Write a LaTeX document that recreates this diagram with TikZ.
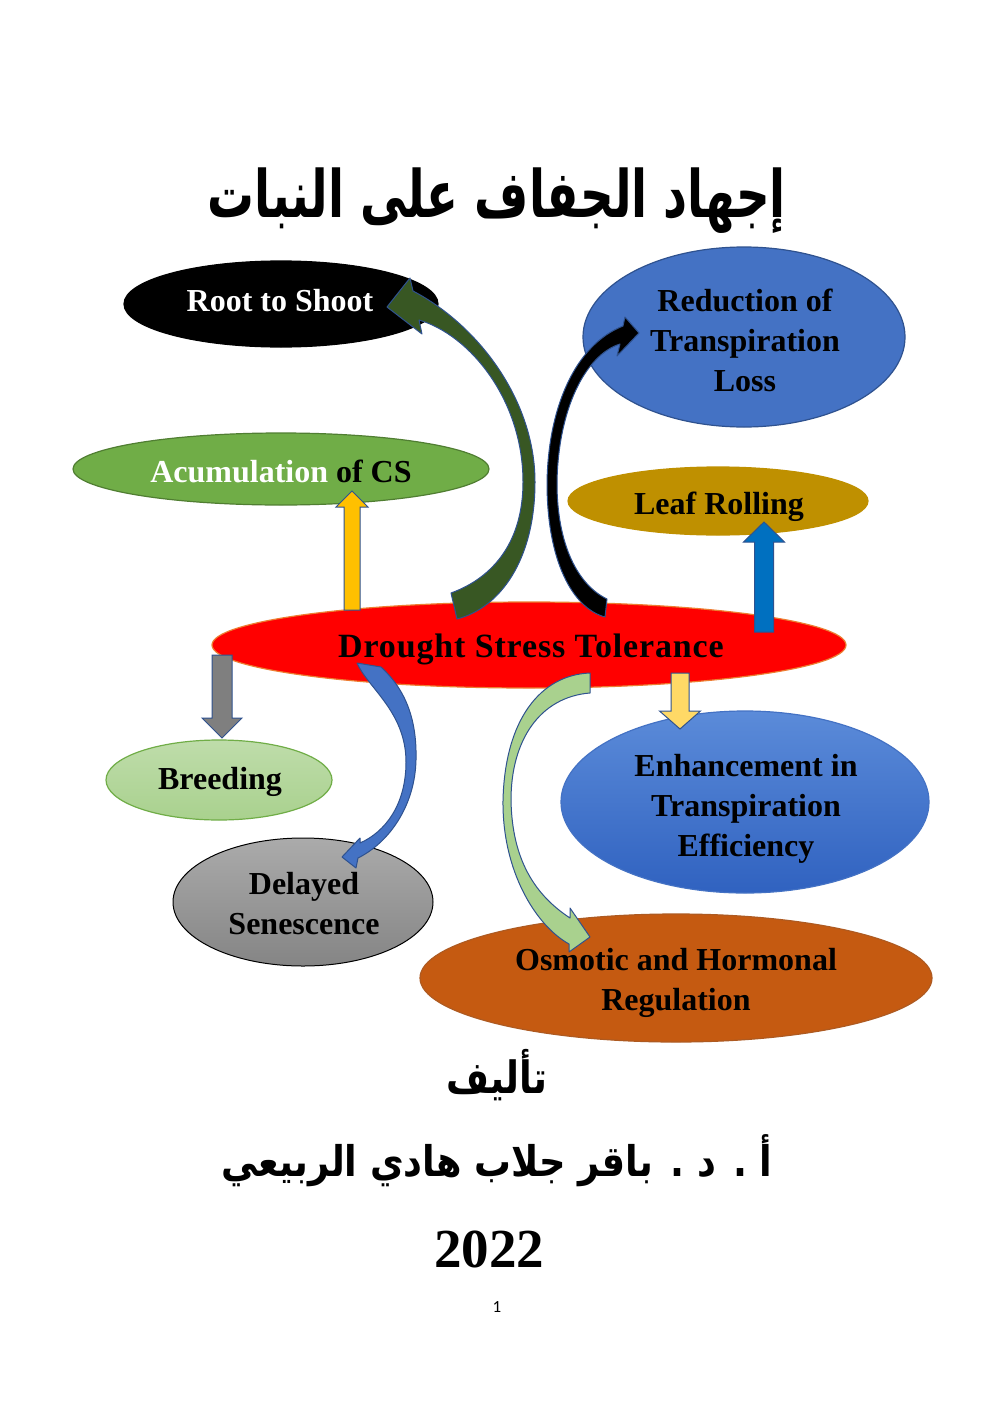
\documentclass[tikz,border=0pt]{standalone}
\usepackage{fontspec}
\setmainfont{Liberation Serif}
\newfontfamily\arabicfont[Script=Arabic]{DejaVu Sans}
\newfontfamily\pagefont{Carlito}
\TeXXeTstate=1
\usetikzlibrary{shapes.geometric,calc}
\definecolor{redborder}{HTML}{ED7D31}
\definecolor{accblue}{HTML}{4472C4}
\definecolor{darkblue}{HTML}{2F528F}
\definecolor{accgreen}{HTML}{70AD47}
\definecolor{greenborder}{HTML}{507E32}
\definecolor{goldfill}{HTML}{BF9000}
\definecolor{lightgreen}{HTML}{A9D18E}
\definecolor{orangefill}{HTML}{C55A11}
\definecolor{orangeborder}{HTML}{AE5A21}
\definecolor{yellowarrow}{HTML}{FFC000}
\definecolor{lightyellow}{HTML}{FFD966}
\definecolor{bluearrow}{HTML}{0070C0}
\definecolor{grayarrow}{HTML}{7F7F7F}
\definecolor{darkgreen}{HTML}{385723}
\definecolor{enhtop}{HTML}{5B8BD9}
\definecolor{enhbottom}{HTML}{3062C0}
\tikzset{
  bubble/.style={ellipse, inner sep=0pt, line width=1.2pt},
  lbl/.style={inner sep=0pt, align=center, font={\bfseries\fontsize{32}{40}\selectfont}},
  blockborder/.style={draw=darkblue, line width=1pt, line join=miter},
  curvedborder/.style={draw=darkblue, line width=1pt, line join=round},
}
% straight block arrows: #1 tail, #2 tip, #3 shaft half width, #4 head half width, #5 head length, #6 fill
\newcommand{\uparr}[6]{\filldraw[fill=#6, blockborder] let \p1=(#1), \p2=(#2) in
  (\x2-#3,\y1) -- (\x2-#3,\y2-#5) -- (\x2-#4,\y2-#5) -- (\x2,\y2) -- (\x2+#4,\y2-#5) -- (\x2+#3,\y2-#5) -- (\x2+#3,\y1) -- cycle;}
\newcommand{\downarr}[6]{\filldraw[fill=#6, blockborder] let \p1=(#1), \p2=(#2) in
  (\x2-#3,\y1) -- (\x2-#3,\y2+#5) -- (\x2-#4,\y2+#5) -- (\x2,\y2) -- (\x2+#4,\y2+#5) -- (\x2+#3,\y2+#5) -- (\x2+#3,\y1) -- cycle;}
\begin{document}
\begin{tikzpicture}[x=1pt,y=1pt]
\useasboundingbox[fill=white] (0,0) rectangle (993,-1418);

% titles
\node (title) at (497,-201) {\resizebox{578pt}{!}{\scalebox{1}[1.4]{\arabicfont\bfseries\beginR إجهاد الجفاف على النبات\endR}}};
\node (authorlabel) at (497,-1075) {\resizebox{101pt}{!}{\scalebox{1}[1.2]{\arabicfont\bfseries\beginR تأليف\endR}}};
\node (author) at (497,-1161) {\resizebox{551pt}{!}{\scalebox{1}[1.15]{\arabicfont\bfseries\beginR أ . د . باقر جلاب هادي الربيعي\endR}}};
\node (year) at (489,-1249) {\fontsize{55}{60}\selectfont\bfseries 2022};
\node (page) at (497,-1307) {\pagefont\fontsize{17}{20}\selectfont 1};

% ellipses
\node[bubble, fill=black, draw=black, minimum width=314pt, minimum height=86pt] (root) at (281,-304) {};
\node[bubble, fill=accblue, draw=darkblue, minimum width=322pt, minimum height=180pt] (reduction) at (744,-337) {};
\node[bubble, fill=accgreen, draw=greenborder, minimum width=416pt, minimum height=72pt] (accum) at (281,-469) {};
\node[bubble, fill=goldfill, draw=goldfill, minimum width=300pt, minimum height=68pt] (leaf) at (718,-501) {};
\node[bubble, fill=red, draw=redborder, minimum width=634pt, minimum height=86pt] (drought) at (529,-645) {};
\node[bubble, top color=lightgreen!75!white, bottom color=lightgreen, draw=accgreen, minimum width=226pt, minimum height=80pt] (breeding) at (219,-780) {};
\node[bubble, top color=enhtop, bottom color=enhbottom, draw=accblue, minimum width=368pt, minimum height=182pt] (enhance) at (745,-802) {};
\node[bubble, top color=black!33, bottom color=black!48, draw=black, line width=1pt, minimum width=260pt, minimum height=128pt] (delayed) at (303,-902) {};
\node[bubble, fill=orangefill, draw=orangeborder, minimum width=512pt, minimum height=128pt] (osmotic) at (676,-978) {};

% labels
\node[lbl, text=white] (root-t) at (280,-301) {Root to Shoot};
\node[lbl] (reduction-t) at (745,-340) {Reduction of\\Transpiration\\Loss};
\node[lbl] (accum-t) at (281,-471) {\textcolor{white}{Acumulation} of CS};
\node[lbl] (leaf-t) at (719,-507) {Leaf Rolling};
\node[lbl, font={\bfseries\fontsize{34}{40}\selectfont\addfontfeatures{LetterSpace=2.5}}] (drought-t) at (531,-649) {Drought Stress Tolerance};
\node[lbl] (breeding-t) at (220,-782) {Breeding};
\node[lbl] (enhance-t) at (746,-809) {Enhancement in\\Transpiration\\Efficiency};
\node[lbl] (delayed-t) at (304,-904) {Delayed\\Senescence};
\node[lbl] (osmotic-t) at (676,-983) {Osmotic and Hormonal\\Regulation};

% straight block arrows
\coordinate (ya1) at (352,-610); \coordinate (ya2) at (352,-491);
\uparr{ya1}{ya2}{8pt}{16pt}{16pt}{yellowarrow}
\coordinate (ba1) at (764,-632); \coordinate (ba2) at (764,-522);
\uparr{ba1}{ba2}{9.5pt}{20.5pt}{20pt}{bluearrow}
\coordinate (ga1) at (222,-655); \coordinate (ga2) at (222,-738);
\downarr{ga1}{ga2}{10pt}{20pt}{20pt}{grayarrow}
\coordinate (la1) at (680,-673); \coordinate (la2) at (680,-729);
\downarr{la1}{la2}{9pt}{20.5pt}{18pt}{lightyellow}

% curved arrow: drought -> root (dark green)
\coordinate (g-t1) at (451,-593); \coordinate (g-t2) at (457,-619);
\coordinate (g-h1) at (413,-291); \coordinate (g-b1) at (410,-278);
\coordinate (g-tip) at (387,-307);
\coordinate (g-b2) at (422,-334); \coordinate (g-h2) at (419,-320);
\filldraw[fill=darkgreen, curvedborder] (g-t1) -- (g-t2)
  .. controls (500,-608) and (535,-560) .. (535,-482)
  .. controls (535,-400) and (478,-325) .. (g-h1)
  -- (g-b1) -- (g-tip) -- (g-b2) -- (g-h2)
  .. controls (470,-335) and (523,-400) .. (523,-482)
  .. controls (523,-540) and (495,-577) .. (g-t1) -- cycle;

% curved arrow: drought -> reduction (black)
\coordinate (k-t1) at (607,-599); \coordinate (k-t2) at (605,-617);
\coordinate (k-h1) at (623,-326); \coordinate (k-b1) at (625,-317);
\coordinate (k-tip) at (639,-333);
\coordinate (k-b2) at (617,-356); \coordinate (k-h2) at (620,-344);
\filldraw[fill=black, curvedborder] (k-t1) -- (k-t2)
  .. controls (572,-608) and (547,-560) .. (547,-483)
  .. controls (548,-408) and (575,-345) .. (k-h1)
  -- (k-b1) -- (k-tip) -- (k-b2) -- (k-h2)
  .. controls (585,-355) and (558,-410) .. (557,-483)
  .. controls (557,-545) and (578,-585) .. (k-t1) -- cycle;

% curved arrow: drought -> delayed (blue)
\coordinate (b-t1) at (357,-663); \coordinate (b-t2) at (381,-667);
\coordinate (b-h2) at (358,-858); \coordinate (b-b2) at (356,-868);
\coordinate (b-tip) at (342,-857);
\coordinate (b-b1) at (360,-838); \coordinate (b-h1) at (360,-843);
\filldraw[fill=accblue, curvedborder] (b-t1) -- (b-t2)
  .. controls (406,-690) and (417,-720) .. (416,-760)
  .. controls (415,-805) and (390,-842) .. (b-h2)
  -- (b-b2) -- (b-tip) -- (b-b1) -- (b-h1)
  .. controls (385,-832) and (406,-805) .. (406,-762)
  .. controls (406,-712) and (368,-688) .. (b-t1) -- cycle;

% curved arrow: drought -> osmotic (light green)
\coordinate (l-t1) at (590,-673); \coordinate (l-t2) at (590,-693);
\coordinate (l-h1) at (570,-918); \coordinate (l-b1) at (570,-908);
\coordinate (l-tip) at (590,-937);
\coordinate (l-b2) at (569,-952); \coordinate (l-h2) at (569,-944);
\filldraw[fill=lightgreen, curvedborder] (l-t1)
  .. controls (540,-675) and (505,-720) .. (503,-800)
  .. controls (502,-870) and (535,-925) .. (l-h2)
  -- (l-b2) -- (l-tip) -- (l-b1) -- (l-h1)
  .. controls (535,-895) and (512,-860) .. (511,-800)
  .. controls (511,-740) and (540,-697) .. (l-t2) -- cycle;
\end{tikzpicture}
\end{document}
